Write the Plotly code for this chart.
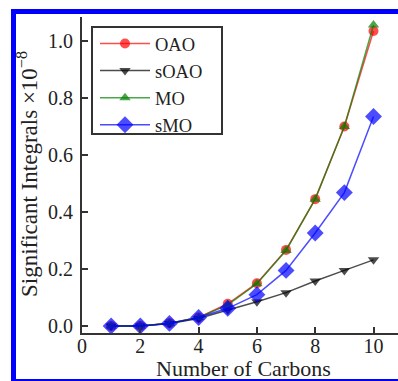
import plotly.graph_objects as go

carbons = [1, 2, 3, 4, 5, 6, 7, 8, 9, 10]
oao = [0.0, 0.0, 0.01, 0.03, 0.078, 0.15, 0.267, 0.445, 0.70, 1.035]
soao = [0.0, 0.0, 0.009, 0.026, 0.056, 0.085, 0.117, 0.158, 0.195, 0.232]
mo = [0.0, 0.0, 0.01, 0.03, 0.074, 0.148, 0.265, 0.445, 0.70, 1.056]
smo = [0.0, 0.0, 0.009, 0.03, 0.062, 0.11, 0.195, 0.326, 0.468, 0.735]

x_title = "Number of Carbons"
y_title = "Significant Integrals ×10<sup>−8</sup>"

series = [
    ("OAO", oao, "rgba(255,0,0,0.7)", "circle", 10),
    ("sOAO", soao, "rgba(0,0,0,0.7)", "triangle-down", 10),
    ("MO", mo, "rgba(0,128,0,0.7)", "triangle-up", 10),
    ("sMO", smo, "rgba(0,0,255,0.7)", "diamond", 13),
]

fig = go.Figure()
for name, vals, col, sym, sz in series:
    fig.add_trace(go.Scatter(
        x=carbons, y=vals, name=name, mode="lines+markers",
        line=dict(color=col, width=1.5),
        marker=dict(symbol=sym, size=sz, color=col, line=dict(width=0)),
    ))

font = "Liberation Serif"
L, T, W, H = 82, 17, 316, 316

def px(x):
    return (x - L) / W

def py(y):
    return 1 - (y - T) / H

fig.update_layout(
    width=398, height=381,
    margin=dict(l=L, r=0, t=T, b=381 - T - H),
    paper_bgcolor="white", plot_bgcolor="white",
    font=dict(family=font, size=20, color="#222"),
    showlegend=True,
    legend=dict(
        x=px(95), y=py(25), xanchor="left", yanchor="top",
        borderwidth=0, bgcolor="rgba(0,0,0,0)",
        font=dict(family=font, size=18.5, color="#222"),
        itemwidth=50, tracegroupgap=0,
    ),
    xaxis=dict(
        range=[0, 10.84], tickvals=[0, 2, 4, 6, 8, 10],
        ticks="inside", ticklen=6, tickwidth=1.5, tickcolor="#333",
        showline=True, linecolor="#333", linewidth=2, mirror=False,
        showgrid=False, zeroline=False, automargin=False,
        ticklabelstandoff=-6,
        tickfont=dict(family=font, size=20),
    ),
    yaxis=dict(
        range=[-0.0246, 1.084], tickvals=[0.0, 0.2, 0.4, 0.6, 0.8, 1.0],
        tickformat=".1f",
        ticks="inside", ticklen=6, tickwidth=1.5, tickcolor="#333",
        showline=True, linecolor="#333", linewidth=2, mirror=False,
        showgrid=False, zeroline=False, automargin=False,
        ticklabelstandoff=3,
        tickfont=dict(family=font, size=20),
    ),
    annotations=[
        dict(text=x_title, xref="paper", yref="paper", x=px(243), y=py(368),
             xanchor="center", yanchor="middle", showarrow=False,
             font=dict(family=font, size=22, color="#222")),
        dict(text=y_title, xref="paper", yref="paper", x=px(27), y=py(174),
             xanchor="center", yanchor="middle", showarrow=False, textangle=-90,
             font=dict(family=font, size=23, color="#222")),
    ],
    shapes=[
        dict(type="rect", xref="paper", yref="paper",
             x0=px(92), x1=px(222), y0=py(134), y1=py(27),
             line=dict(color="#333", width=2), fillcolor="white", layer="above"),
        dict(type="rect", xref="paper", yref="paper",
             x0=px(13.5), x1=px(420), y0=py(381.5), y1=py(11.5),
             line=dict(color="#0000ff", width=5), fillcolor="rgba(0,0,0,0)", layer="above"),
    ],
)

fig.write_html(
    "out.html",
    config={"displayModeBar": False},
    post_script="document.body.style.margin='0';document.body.style.overflow='hidden';",
)
